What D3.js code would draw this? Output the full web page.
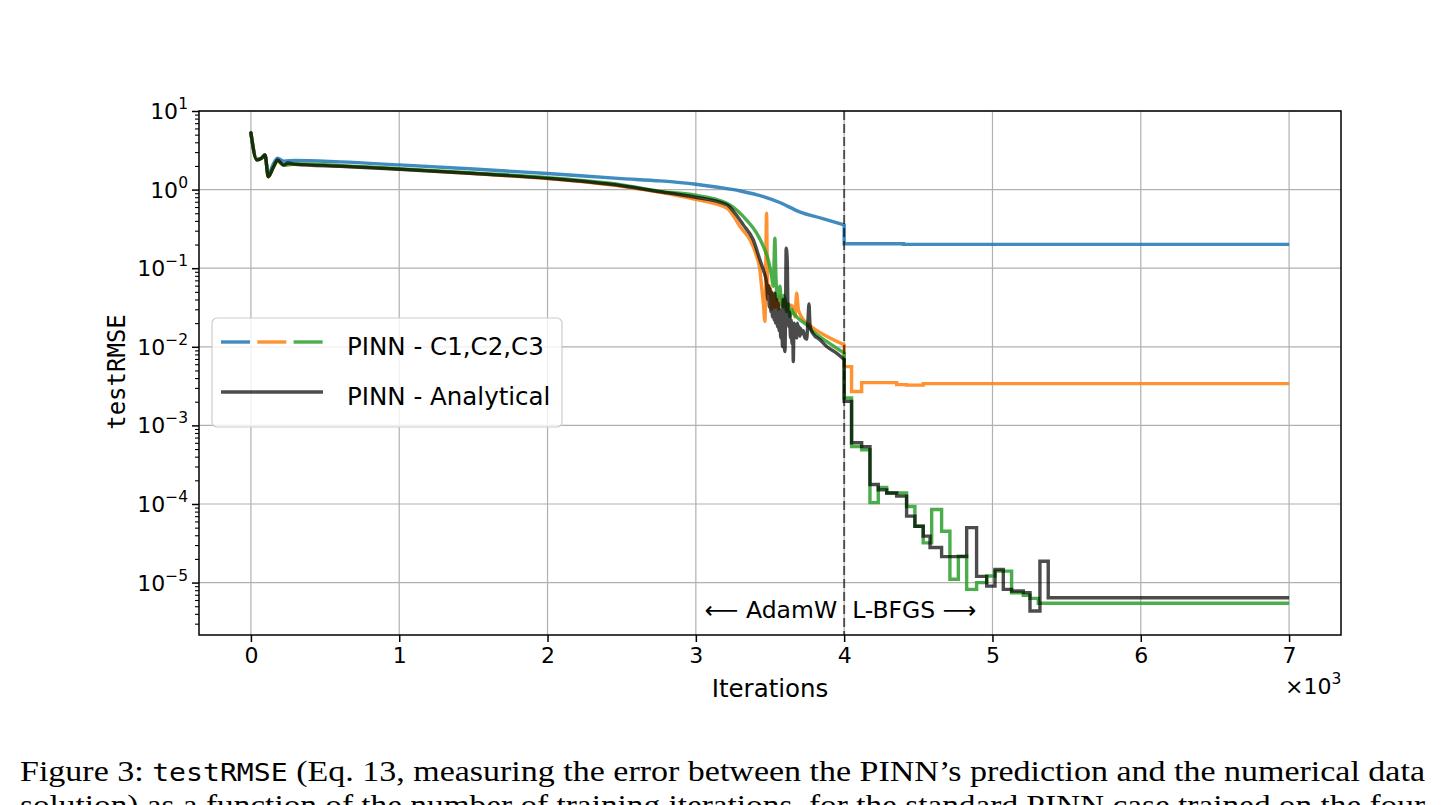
<!DOCTYPE html>
<html>
<head>
<meta charset="utf-8">
<script src="https://cdn.jsdelivr.net/npm/d3@7"></script>
<style>
body { margin: 0; background: #fff; }
svg { display: block; }
</style>
</head>
<body>
<svg id="chart"></svg>
<script>
// [iteration, testRMSE]
var c1Adam = [[0,5.2],[40,2.45],[70,2.5],[95,2.75],[117,1.55],[150,2.1],[180,2.5],[220,2.3],[300,2.35],[600,2.25],[1000,2.06],[1500,1.83],[2000,1.6],[2500,1.38],[2760,1.29],[3000,1.17],[3150,1.07],[3300,0.96],[3450,0.82],[3570,0.68],[3700,0.52],[3850,0.43],[4000,0.356]];
var c1Lbfgs = [[4000,0.356],[4000,0.205],[4400,0.201],[7000,0.201]];

var c2Adam = [[0,5.2],[40,2.4],[70,2.5],[95,2.75],[117,1.46],[150,1.9],[180,2.3],[220,2.05],[300,2.1],[600,2.0],[1000,1.82],[1500,1.6],[2000,1.38],[2500,1.1],[2760,0.92],[2980,0.76],[3210,0.58],[3264,0.43],[3297,0.34],[3365,0.23],[3410,0.141],[3432,0.095],[3443,0.059],[3455,0.036],[3466,0.021],[3477,0.50],[3481,0.128],[3488,0.048],[3500,0.059],[3511,0.03],[3522,0.048],[3533,0.032],[3545,0.042],[3556,0.03],[3567,0.044],[3584,0.034],[3601,0.040],[3618,0.03],[3635,0.034],[3657,0.032],[3668,0.024],[3680,0.048],[3691,0.030],[3713,0.024],[3780,0.018],[3882,0.0136],[4000,0.0106]];
var c2Lbfgs = [[4000,0.0106],[4000,0.0056],[4050,0.0027],[4118,0.0035],[4354,0.0033],[4421,0.00325],[4533,0.0034],[7000,0.0034]];

var c3Adam = [[0,5.2],[40,2.4],[70,2.5],[95,2.75],[117,1.46],[150,1.9],[180,2.3],[220,2.05],[300,2.12],[600,2.02],[1000,1.84],[1500,1.63],[2000,1.42],[2500,1.15],[2760,0.95],[2980,0.86],[3210,0.67],[3275,0.55],[3342,0.41],[3410,0.28],[3455,0.19],[3488,0.128],[3511,0.079],[3522,0.059],[3533,0.24],[3539,0.09],[3550,0.04],[3558,0.05],[3567,0.059],[3576,0.036],[3585,0.032],[3593,0.045],[3601,0.04],[3612,0.028],[3624,0.035],[3635,0.024],[3646,0.03],[3657,0.027],[3680,0.024],[3702,0.022],[3747,0.019],[3780,0.0163],[3882,0.0117],[4000,0.0083]];
var c3Lbfgs = [[4000,0.0083],[4000,0.00223],[4050,0.000537],[4118,0.00049],[4174,0.000104],[4230,0.000162],[4287,0.000138],[4421,0.000093],[4477,0.000052],[4533,0.000032],[4590,0.000085],[4657,0.000045],[4713,0.000011],[4770,0.0000217],[4826,0.0000082],[4893,0.00001],[4961,0.0000121],[5017,0.000014],[5129,0.0000074],[5208,0.0000069],[5253,0.0000063],[5309,0.00000545],[7000,0.00000545]];

var anAdam = [[0,5.3],[40,2.38],[70,2.5],[95,2.76],[117,1.46],[150,1.9],[180,2.38],[220,2.06],[250,2.18],[300,2.1],[600,1.98],[970,1.83],[1500,1.6],[2000,1.39],[2500,1.12],[2760,0.94],[2980,0.81],[3210,0.64],[3264,0.5],[3320,0.356],[3387,0.23],[3432,0.128],[3455,0.095],[3477,0.065],[3485,0.04],[3490,0.06],[3495,0.032],[3500,0.055],[3505,0.028],[3511,0.05],[3516,0.024],[3522,0.045],[3527,0.022],[3533,0.048],[3538,0.02],[3545,0.04],[3550,0.018],[3556,0.036],[3561,0.016],[3567,0.03],[3572,0.013],[3579,0.028],[3584,0.0101],[3589,0.04],[3595,0.012],[3601,0.0087],[3606,0.05],[3609,0.18],[3616,0.13],[3621,0.03],[3627,0.018],[3632,0.028],[3638,0.013],[3643,0.022],[3648,0.011],[3653,0.02],[3657,0.0065],[3662,0.02],[3668,0.014],[3674,0.019],[3680,0.013],[3686,0.02],[3691,0.015],[3697,0.018],[3702,0.0136],[3708,0.017],[3713,0.0145],[3724,0.016],[3735,0.013],[3747,0.0125],[3755,0.02],[3763,0.035],[3769,0.02],[3774,0.017],[3792,0.0145],[3837,0.0123],[3882,0.0101],[3949,0.0083],[4000,0.0069]];
var anLbfgs = [[4000,0.0069],[4000,0.00202],[4050,0.0006],[4118,0.000537],[4174,0.000177],[4230,0.000151],[4287,0.000138],[4354,0.000126],[4421,0.00007],[4477,0.000052],[4533,0.000039],[4579,0.000028],[4657,0.0000214],[4826,0.00005],[4893,0.000012],[4961,0.000009],[5017,0.0000147],[5073,0.0000082],[5129,0.0000078],[5208,0.00000745],[5253,0.00000435],[5320,0.0000187],[5376,0.0000064],[7000,0.0000064]];

var xTicks = [0,1000,2000,3000,4000,5000,6000,7000];
var yTicks = [1e1,1e0,1e-1,1e-2,1e-3,1e-4,1e-5];
var switchIter = 4000;

var svgWidth = 1444, svgHeight = 805;
var plotLeft = 199, plotRight = 1341, plotTop = 111, plotBottom = 635;

var svg = d3.select("#chart")
      .attr("width", svgWidth)
      .attr("height", svgHeight)
      .style("font-family", "'DejaVu Sans', sans-serif");

svg.append("rect").attr("width", svgWidth).attr("height", svgHeight).attr("fill", "#fff");

var x = d3.scaleLinear().domain([-350, 7350]).range([plotLeft, plotRight]);
var y = d3.scaleLog().domain([Math.pow(10, -5.667), 10]).range([plotBottom, plotTop]);

// grid
svg.append("g").selectAll("line")
      .data(xTicks).enter().append("line")
      .attr("x1", function(d) { return x(d); })
      .attr("x2", function(d) { return x(d); })
      .attr("y1", plotTop).attr("y2", plotBottom)
      .attr("stroke", "#b0b0b0").attr("stroke-width", 1.2);
svg.append("g").selectAll("line")
      .data(yTicks).enter().append("line")
      .attr("y1", function(d) { return y(d); })
      .attr("y2", function(d) { return y(d); })
      .attr("x1", plotLeft).attr("x2", plotRight)
      .attr("stroke", "#b0b0b0").attr("stroke-width", 1.2);

// series
var line = d3.line().x(function(d) { return x(d[0]); }).y(function(d) { return y(d[1]); }).curve(d3.curveMonotoneX);
var stepLine = d3.line().x(function(d) { return x(d[0]); }).y(function(d) { return y(d[1]); }).curve(d3.curveStepAfter);

var series = [
  {adam: c1Adam, lbfgs: c1Lbfgs, color: "#1f77b4", op: 0.85},
  {adam: c2Adam, lbfgs: c2Lbfgs, color: "#ff7f0e", op: 0.85},
  {adam: c3Adam, lbfgs: c3Lbfgs, color: "#2ca02c", op: 0.85},
  {adam: anAdam, lbfgs: anLbfgs, color: "#000000", op: 0.7}
];

var lines = svg.append("g");
series.forEach(function(s) {
  var g = lines.append("g").attr("opacity", s.op);
  g.append("path").attr("d", line(s.adam))
      .attr("fill", "none").attr("stroke", s.color).attr("stroke-width", 3.4)
      .attr("stroke-linejoin", "round").attr("stroke-linecap", "round");
  g.append("path").attr("d", stepLine(s.lbfgs))
      .attr("fill", "none").attr("stroke", s.color).attr("stroke-width", 3.4)
      .attr("stroke-linejoin", "miter").attr("stroke-linecap", "butt");
});

// optimizer switch
svg.append("line")
      .attr("x1", x(switchIter)).attr("x2", x(switchIter))
      .attr("y1", plotTop).attr("y2", plotBottom)
      .attr("stroke", "#000").attr("stroke-opacity", 0.6)
      .attr("stroke-width", 2).attr("stroke-dasharray", "9,4");

svg.append("text")
      .attr("x", x(switchIter) - 7).attr("y", 618)
      .attr("text-anchor", "end").attr("font-size", 23.5)
      .text("\u27F5 AdamW");
svg.append("text")
      .attr("x", x(switchIter) + 8).attr("y", 618)
      .attr("text-anchor", "start").attr("font-size", 23.5)
      .text("L-BFGS \u27F6");

// axes
var xAxis = svg.append("g")
      .attr("transform", "translate(0," + plotBottom + ")")
      .call(d3.axisBottom(x).tickValues(xTicks).tickSize(7).tickSizeOuter(0)
            .tickFormat(function(d) { return d / 1000; }));
xAxis.select(".domain").remove();
xAxis.selectAll(".tick line").attr("stroke", "#000").attr("stroke-width", 1.5);
xAxis.selectAll(".tick text")
      .attr("font-size", 22).attr("font-family", "'DejaVu Sans', sans-serif")
      .attr("fill", "#000").attr("y", 12);

var minorTicks = [];
for (var e = -6; e <= 0; e++) {
  for (var m = 2; m <= 9; m++) {
    var v = m * Math.pow(10, e);
    if (v > y.domain()[0] && v < 10) minorTicks.push(v);
  }
}
var yMinor = svg.append("g")
      .attr("transform", "translate(" + plotLeft + ",0)")
      .call(d3.axisLeft(y).tickValues(minorTicks).tickSize(4).tickSizeOuter(0).tickFormat(""));
yMinor.select(".domain").remove();
yMinor.selectAll(".tick line").attr("stroke", "#000").attr("stroke-width", 1.1);

var yAxis = svg.append("g")
      .attr("transform", "translate(" + plotLeft + ",0)")
      .call(d3.axisLeft(y).tickValues(yTicks).tickSize(7).tickSizeOuter(0).tickFormat(""));
yAxis.select(".domain").remove();
yAxis.selectAll(".tick line").attr("stroke", "#000").attr("stroke-width", 1.5);

yTicks.forEach(function(t) {
  var p = Math.round(Math.log10(t));
  var label = svg.append("text")
      .attr("x", 188).attr("y", y(t) + 8)
      .attr("text-anchor", "end").attr("font-size", 22);
  label.append("tspan").text("10");
  label.append("tspan").attr("dy", -10).attr("font-size", 15.5)
      .text(p < 0 ? "\u2212" + (-p) : String(p));
});

// frame
svg.append("rect")
      .attr("x", plotLeft).attr("y", plotTop)
      .attr("width", plotRight - plotLeft).attr("height", plotBottom - plotTop)
      .attr("fill", "none").attr("stroke", "#000").attr("stroke-width", 1.5);

// axis labels
svg.append("text")
      .attr("x", (plotLeft + plotRight) / 2).attr("y", 697)
      .attr("text-anchor", "middle").attr("font-size", 24.5)
      .text("Iterations");
var offset = svg.append("text")
      .attr("x", 1285).attr("y", 694).attr("font-size", 22);
offset.append("tspan").text("\u00D710");
offset.append("tspan").attr("dy", -10).attr("font-size", 15.5).text("3");

svg.append("text")
      .attr("transform", "translate(125,372) rotate(-90)")
      .attr("text-anchor", "middle").attr("font-size", 24)
      .attr("font-family", "'DejaVu Sans Mono', monospace")
      .text("testRMSE");

// legend
var legend = svg.append("g");
legend.append("rect")
      .attr("x", 212).attr("y", 318).attr("width", 350).attr("height", 109)
      .attr("rx", 5).attr("fill", "#fff").attr("fill-opacity", 0.8)
      .attr("stroke", "#ccc").attr("stroke-width", 1.2);
var dashColors = ["#1f77b4", "#ff7f0e", "#2ca02c"];
dashColors.forEach(function(c, i) {
  legend.append("line")
      .attr("x1", 221 + i * 36.3).attr("x2", 250 + i * 36.3)
      .attr("y1", 342).attr("y2", 342)
      .attr("stroke", c).attr("stroke-opacity", 0.85).attr("stroke-width", 3.4);
});
legend.append("line")
      .attr("x1", 221).attr("x2", 323).attr("y1", 392).attr("y2", 392)
      .attr("stroke", "#000").attr("stroke-opacity", 0.7).attr("stroke-width", 3.4);
legend.append("text").attr("x", 347).attr("y", 355).attr("font-size", 24.5).text("PINN - C1,C2,C3");
legend.append("text").attr("x", 347).attr("y", 405).attr("font-size", 24.5).text("PINN - Analytical");

// caption
var cap1 = svg.append("text")
      .attr("x", 20).attr("y", 781)
      .attr("font-family", "'Liberation Serif', serif").attr("font-size", 29)
      .attr("textLength", 1405).attr("lengthAdjust", "spacingAndGlyphs");
cap1.append("tspan").text("Figure 3: ");
cap1.append("tspan").attr("font-family", "'DejaVu Sans Mono', monospace").attr("font-size", 24).text("testRMSE");
cap1.append("tspan").text(" (Eq. 13, measuring the error between the PINN\u2019s prediction and the numerical data");

svg.append("text")
      .attr("x", 20).attr("y", 815)
      .attr("font-family", "'Liberation Serif', serif").attr("font-size", 29)
      .attr("textLength", 1405).attr("lengthAdjust", "spacingAndGlyphs")
      .text("solution) as a function of the number of training iterations, for the standard PINN case trained on the four");
</script>
</body>
</html>
